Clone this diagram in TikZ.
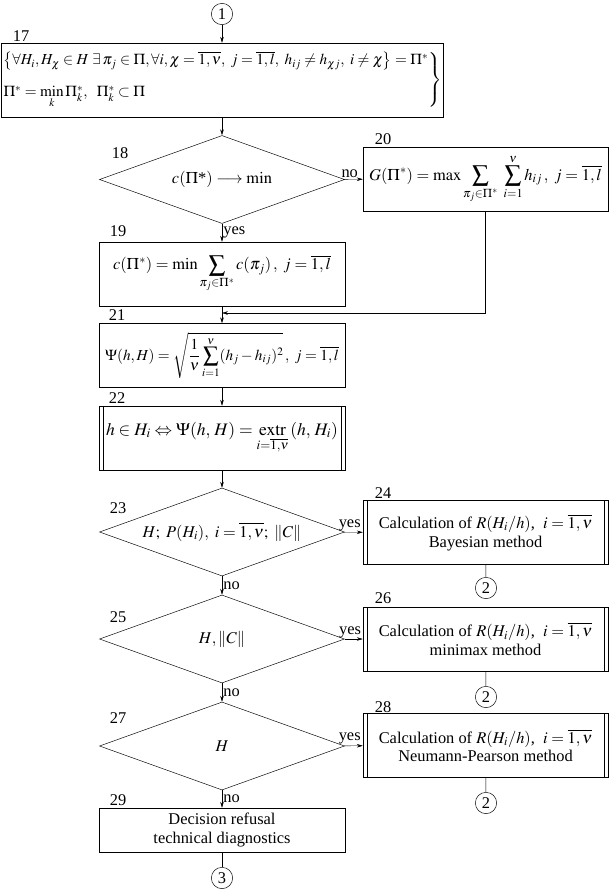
\documentclass[tikz,border=0pt]{standalone}
\usepackage{amsmath}
\usepackage{mathptmx}
\usepackage[no-math]{fontspec}
\setmainfont{Liberation Serif}
\usetikzlibrary{shapes.geometric,arrows.meta}

\begin{document}
\begin{tikzpicture}[
		x=0.03cm, y=-0.03cm,
		every node/.style={font=\fontsize{14}{16}\selectfont},
		block/.style={draw, rectangle, minimum width=7.38cm, minimum height=1.92cm, inner sep=1pt},
		dblock/.style={block, path picture={
				\draw ([xshift=0.12cm]path picture bounding box.north west) -- ([xshift=0.12cm]path picture bounding box.south west);
				\draw ([xshift=-0.12cm]path picture bounding box.north east) -- ([xshift=-0.12cm]path picture bounding box.south east);
			}},
		decision/.style={draw, diamond, aspect=2.8, minimum width=7.35cm, minimum height=2.64cm, inner sep=0pt},
		conn/.style={draw, circle, minimum size=0.64cm, inner sep=0pt},
		num/.style={inner sep=0pt},
		lbl/.style={inner sep=1pt},
		flow/.style={-{Stealth[length=5pt,width=3pt]}}
	]
	\useasboundingbox (0,0) rectangle (610,889);

	\node[conn] (c1) at (222,14) {1};
	\node[block, minimum width=13.2cm, minimum height=2.22cm, font=\fontsize{13}{15}\selectfont] (b17) at (222,80)
		{$\left.\begin{array}{@{}l@{}}
			\left\{\forall H_i, H_\chi\in H\ \exists\,\pi_j\in\Pi, \forall i,\chi=\overline{1,\nu},\ j=\overline{1,l},\ h_{ij}\neq h_{\chi j},\ i\neq\chi\right\}=\Pi^*\\[12pt]
			\Pi^*=\min\limits_{k}\Pi^*_k,\ \ \Pi^*_k\subset\Pi
		\end{array}\right\}$};
	\node[num] (n17) at (21,36) {17};

	\node[decision] (d18) at (222,179.5) {$c(\Pi\text{*})\longrightarrow\min$};
	\node[num] (n18) at (120,153) {18};
	\node[block, minimum width=7.35cm] (b20) at (485.5,179)
		{$\displaystyle G(\Pi^*)=\max\sum_{\pi_j\in\Pi^*}\ \sum_{i=1}^{\nu}h_{ij}\,,\ j=\overline{1,l}$};
	\node[num] (n20) at (383,139) {20};
	\node[block] (b19) at (222,274)
		{$\displaystyle c(\Pi^*)=\min\sum_{\pi_j\in\Pi^*}c(\pi_j)\,,\ j=\overline{1,l}$};
	\node[num] (n19) at (118,231) {19};
	\coordinate (j21) at (222,313);

	\node[block, font=\fontsize{13}{15}\selectfont] (b21) at (222,355.5)
		{$\displaystyle \Psi(h,H)=\sqrt{\frac{1}{\nu}\sum_{i=1}^{\nu}(h_j-h_{ij})^2}\,,\ j=\overline{1,l}$};
	\node[num] (n21) at (117,315) {21};
	\node[dblock, font=\fontsize{15}{17}\selectfont] (b22) at (222,438)
		{$\displaystyle h\in H_i\Leftrightarrow\Psi(h,\,H)=\operatorname*{extr}_{i=\overline{1,\nu}}\,(h,\,H_i)$};
	\node[num] (n22) at (117,398) {22};

	\node[decision] (d23) at (222,532) {$H;\ P(H_i),\ i=\overline{1,\nu};\ \|C\|$};
	\node[num] (n23) at (118,508) {23};
	\node[dblock, minimum width=7.35cm, align=center] (b24) at (485.5,532.5)
		{Calculation of $R(H_i/h)$,\ \ $i=\overline{1,\nu}$\\Bayesian method};
	\node[num] (n24) at (383,493) {24};
	\node[conn] (c2a) at (486,588) {2};

	\node[decision] (d25) at (222,639) {$H,\|C\|$};
	\node[num] (n25) at (118,617) {25};
	\node[dblock, minimum width=7.35cm, align=center] (b26) at (485.5,639)
		{Calculation of $R(H_i/h)$,\ \ $i=\overline{1,\nu}$\\minimax method};
	\node[num] (n26) at (383,598) {26};
	\node[conn] (c2b) at (486,697) {2};

	\node[decision] (d27) at (222,746) {$H$};
	\node[num] (n27) at (118,718) {27};
	\node[dblock, minimum width=7.35cm, align=center] (b28) at (485.5,745.5)
		{Calculation of $R(H_i/h)$,\ \ $i=\overline{1,\nu}$\\Neumann-Pearson method};
	\node[num] (n28) at (383,707) {28};
	\node[conn] (c2c) at (486,803) {2};

	\node[block, minimum height=1.32cm, align=center] (b29) at (222,830)
		{Decision refusal\\technical diagnostics};
	\node[num] (n29) at (118,800) {29};
	\node[conn] (c3) at (222,878) {3};

	\draw[flow] (c1) -- (b17);
	\draw[flow] (b17) -- (d18);
	\draw[flow] (d18) -- (b20) node[pos=0.3, above, lbl] {no};
	\draw[flow] (d18) -- (b19) node[midway, right, lbl] {yes};
	\draw[flow] (b19) -- (b21);
	\draw[flow] (b20) |- (j21);
	\draw[flow] (b21) -- (b22);
	\draw[flow] (b22) -- (d23);
	\draw[flow] (d23) -- (b24) node[pos=0.3, above, lbl] {yes};
	\draw[flow] (d23) -- (d25) node[midway, right, lbl] {no};
	\draw[flow] (d25) -- (b26) node[pos=0.3, above, lbl] {yes};
	\draw[flow] (d25) -- (d27) node[midway, right, lbl] {no};
	\draw[flow] (d27) -- (b28) node[pos=0.3, above, lbl] {yes};
	\draw[flow] (d27) -- (b29) node[midway, right, lbl] {no};
	\draw (b24) -- (c2a);
	\draw (b26) -- (c2b);
	\draw (b28) -- (c2c);
	\draw (b29) -- (c3);
\end{tikzpicture}
\end{document}
